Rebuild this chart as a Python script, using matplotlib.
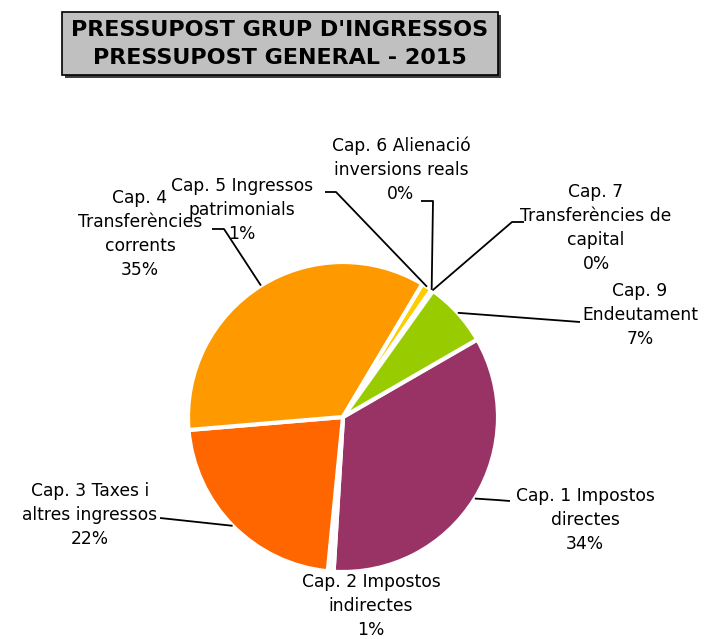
import matplotlib.pyplot as plt
import matplotlib.patches as mpatches
import numpy as np

# Dades del gràfic (percentatges aproximats llegits de la imatge)
capitols = ['Cap. 1 Impostos\ndirectes', 'Cap. 2 Impostos\nindirectes',
            'Cap. 3 Taxes i\naltres ingressos', 'Cap. 4\nTransferències\ncorrents',
            'Cap. 5 Ingressos\npatrimonials', 'Cap. 6 Alienació\ninversions reals',
            'Cap. 7\nTransferències de\ncapital', 'Cap. 9\nEndeutament']
valors = [34.3, 0.6, 22.1, 34.9, 1.1, 0.05, 0.15, 6.8]
colors = ['#993366', '#F6F6F6', '#FF6600', '#FF9900', '#FFCC00', '#FFFF99', '#CCFFCC', '#99CC00']

W, H = 707, 639
fig = plt.figure(figsize=(W / 100, H / 100), dpi=100)
ax = fig.add_axes([0, 0, 1, 1])

# centre i radi del pastís en píxels (y cap amunt)
cx, cy, R = 343, H - 417, 155
wedges, _ = ax.pie(valors, colors=colors, startangle=30, counterclock=False,
                   center=(cx, cy), radius=R, frame=True,
                   wedgeprops=dict(edgecolor='white', linewidth=3))
ax.set_xlim(0, W)
ax.set_ylim(0, H)
ax.set_aspect('equal')
ax.axis('off')

total = sum(valors)
font = 'DejaVu Sans'
fs = 12.3

# posició de cada etiqueta (centre del text, coordenades d'imatge) i punts del colze de la línia
pos_etiq = [(585, 520), (371, 606), (90, 515), (140, 234), (242, 210), (401, 170), (596, 228), (640, 315)]
colzes = [[(510, 501), (497, 500)], None, [(160, 518)], [(212, 229), (224, 229)],
          [(325, 192), (336, 192)], [(421, 201), (433, 201)], [(524, 222), (512, 222)],
          [(580, 322)]]

for i, w in enumerate(wedges):
    pct = round(valors[i] / total * 100)
    x, y = pos_etiq[i]
    ax.text(x, H - y, capitols[i] + '\n%d%%' % pct, ha='center', va='center',
            fontsize=fs, family=font, linespacing=1.42)
    if colzes[i] is not None:
        mid = np.deg2rad((w.theta1 + w.theta2) / 2)
        px = cx + R * np.cos(mid)
        py = cy + R * np.sin(mid)
        xs = [p[0] for p in colzes[i]] + [px]
        ys = [H - p[1] for p in colzes[i]] + [py]
        ax.plot(xs, ys, color='black', linewidth=1.3, solid_capstyle='butt')

# caixa del títol
ax.add_patch(mpatches.Rectangle((65, H - 78), 436, 63, facecolor='#404040', edgecolor='none'))
ax.add_patch(mpatches.Rectangle((62, H - 75), 436, 63, facecolor='#C0C0C0', edgecolor='black', linewidth=1.2))
ax.text(280, H - 30, "PRESSUPOST GRUP D'INGRESSOS", ha='center', va='center',
        fontsize=16, fontweight='bold', family=font)
ax.text(280, H - 58, "PRESSUPOST GENERAL - 2015", ha='center', va='center',
        fontsize=16, fontweight='bold', family=font)

fig.savefig('out.png', dpi=100)
